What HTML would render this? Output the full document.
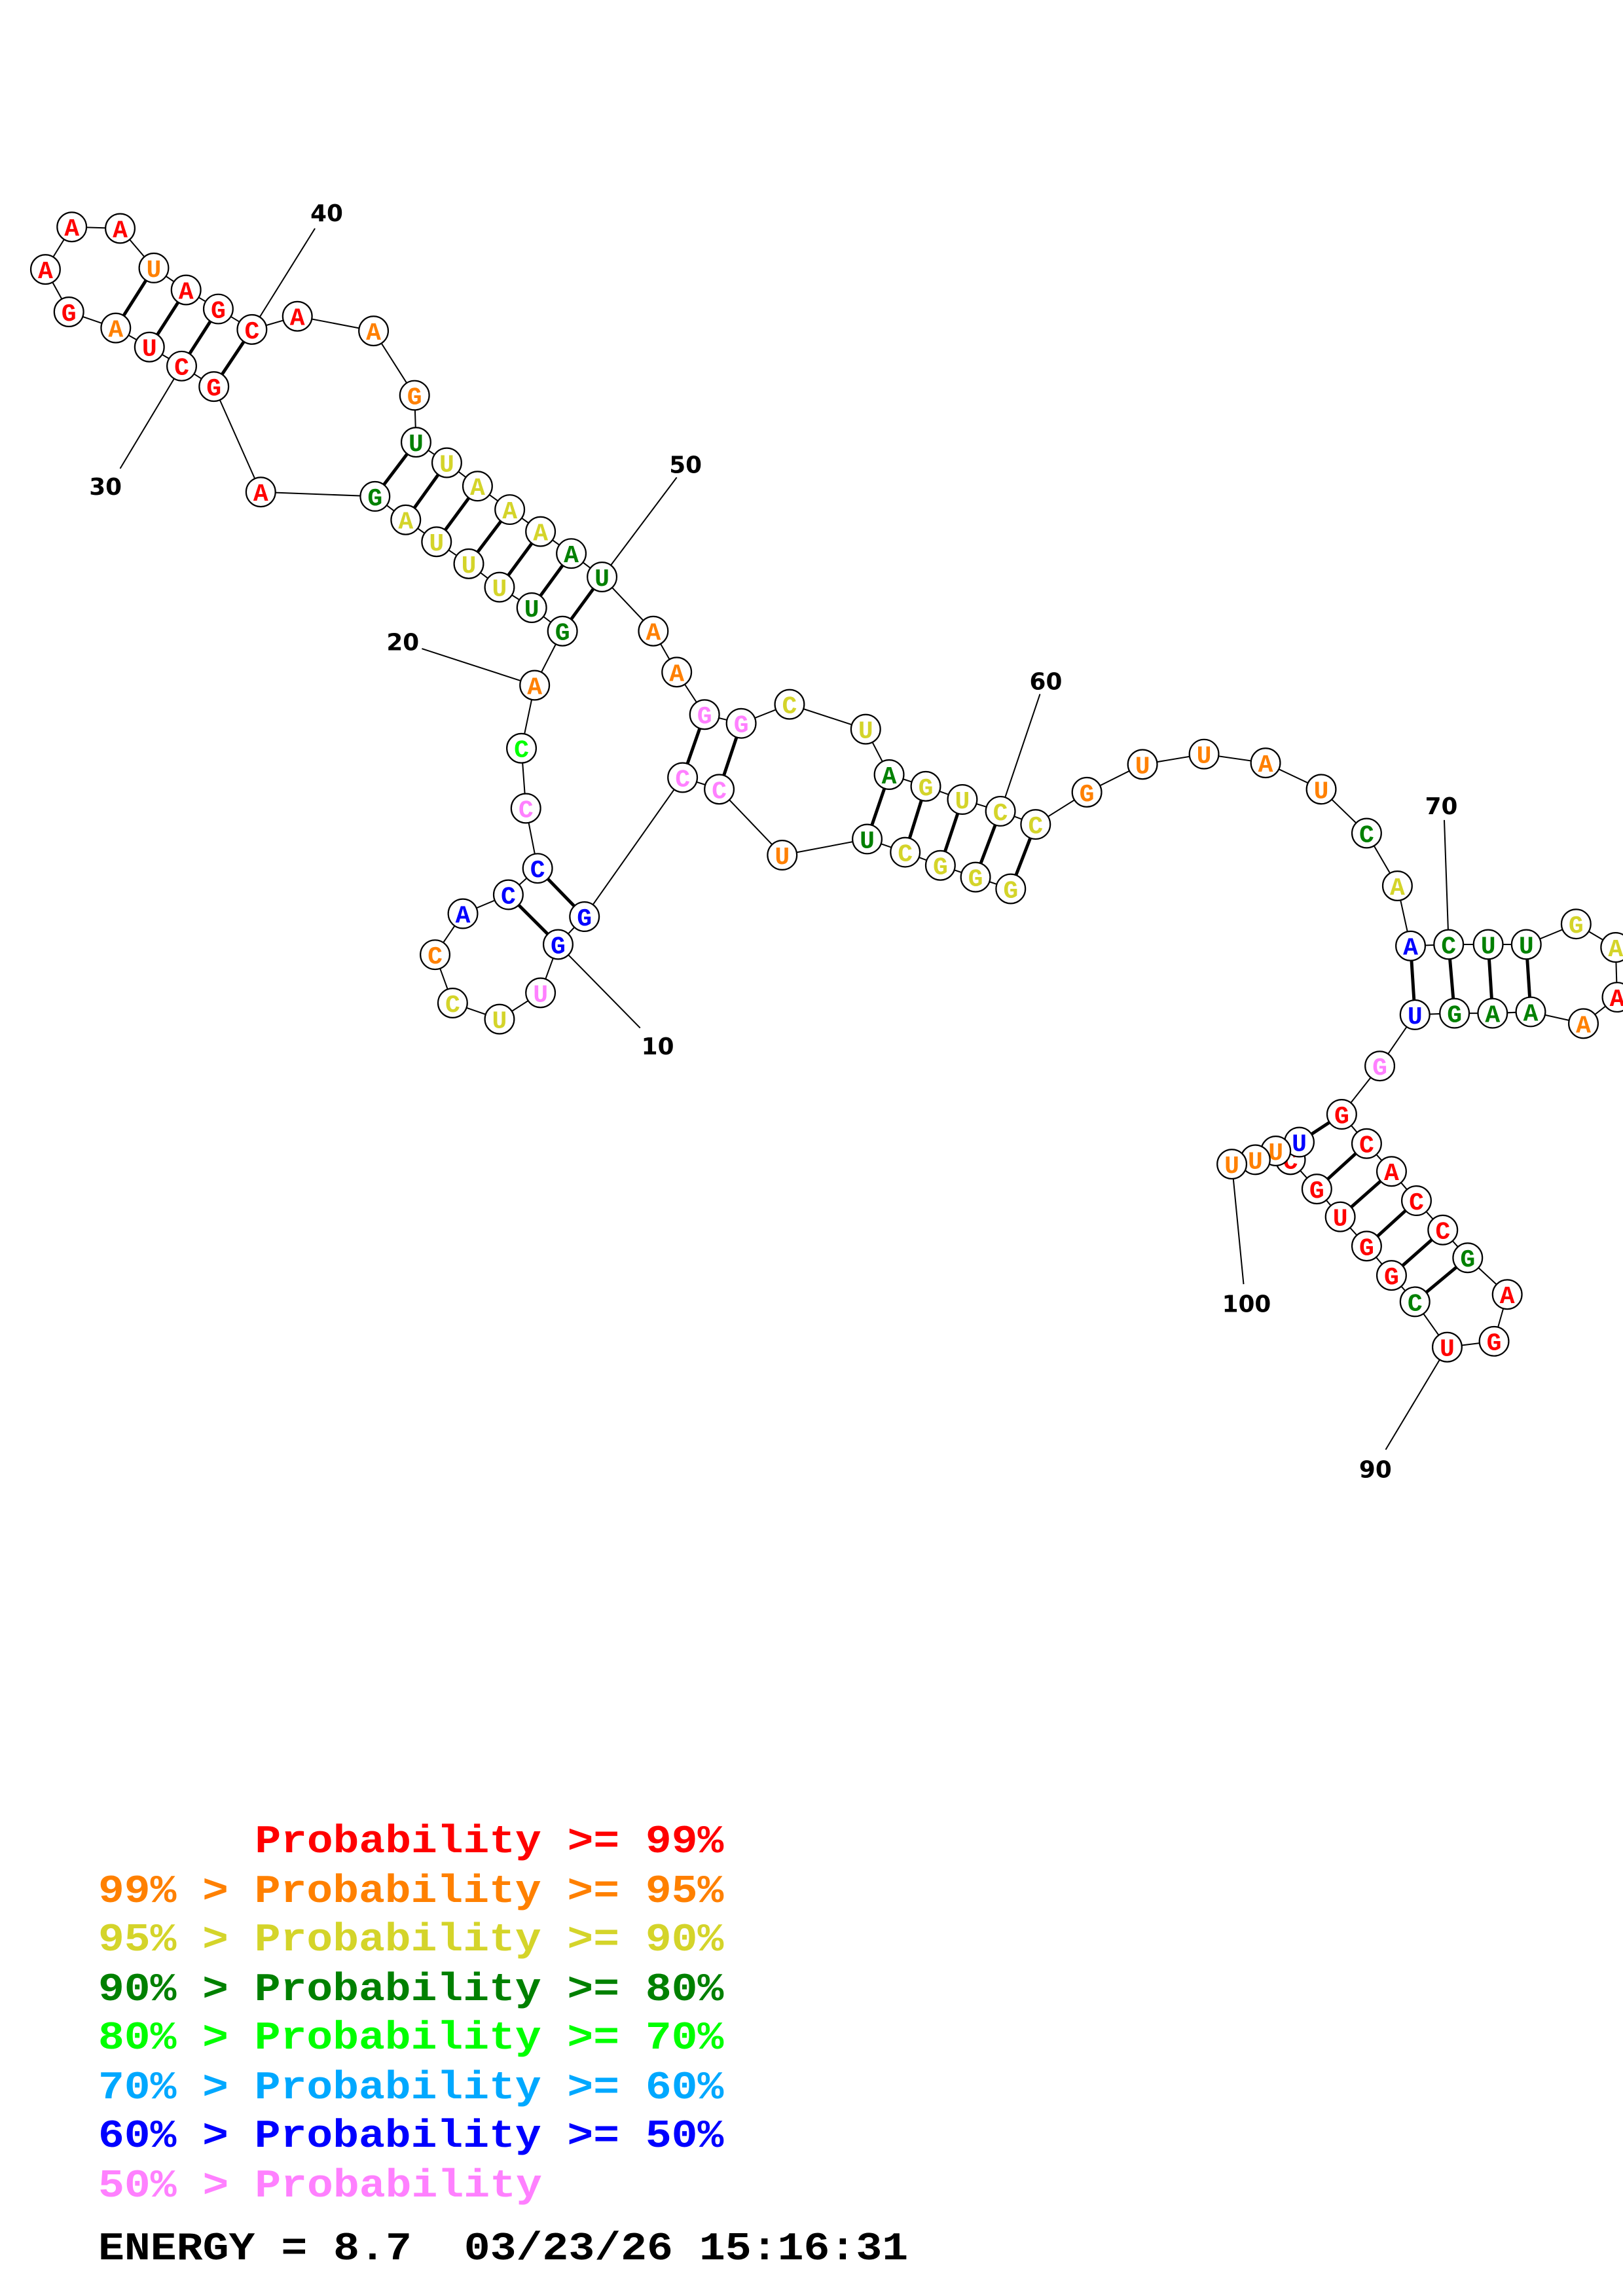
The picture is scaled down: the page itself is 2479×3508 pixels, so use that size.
<!DOCTYPE html>
<html><head><meta charset="utf-8"><style>
html,body{margin:0;padding:0;background:#fff;}
svg{display:block;}
.n circle{fill:#fff;stroke:#000;stroke-width:1;}
.n text{font-family:"Liberation Mono",monospace;font-weight:bold;font-size:17px;text-anchor:middle;}
.lab{font-family:"DejaVu Sans","Liberation Sans",sans-serif;font-weight:bold;font-size:16px;text-anchor:middle;fill:#000;}
.lg{font-family:"Liberation Mono",monospace;font-weight:bold;font-size:27px;}
</style></head><body>
<svg width="2479" height="3508" viewBox="0 0 1108 1568" xmlns="http://www.w3.org/2000/svg">
<g stroke="#000" stroke-width="0.9" fill="none">
<polyline points="690,607 666,599 642,591 618,582 592,573 534,584 491,539 466,531 399,626 381,645 369,678 341,696 309,685 297,652 316,624 347,611 367,593 359,552 356,511 365,468 384,431 363,415 341,401 320,385 298,370 277,355 256,339 178,336 146,264 124,250 102,237 79,224 47,213 31,184 49,155 82,156 105,183 127,198 149,211 172,225 203,216 255,226 283,270 284,302 305,316 326,332 348,348 369,363 390,378 411,394 446,431 462,459 481,488 506,494 539,481 591,498 607,529 632,537 657,546 683,554 707,563 742,541 780,522 822,515 864,521 902,539 933,569 954,605 963,646 989,645 1016,645 1042,645 1076,631 1103,647 1104,681 1081,699 1045,691 1019,692 993,692 966,693 942,728 916,761 933,781 950,800 967,820 985,840 1002,859 1029,884 1020,916 988,920 966,889 950,871 933,851 915,831 899,812 881,792 887,780 871,786 857,792 841,795"/>
<line x1="381" y1="645" x2="437" y2="702"/>
<line x1="365" y1="468" x2="288" y2="443"/>
<line x1="124" y1="250" x2="82" y2="320"/>
<line x1="172" y1="225" x2="215" y2="156"/>
<line x1="411" y1="394" x2="462" y2="326"/>
<line x1="683" y1="554" x2="710" y2="474"/>
<line x1="989" y1="645" x2="986" y2="560"/>
<line x1="988" y1="920" x2="946" y2="990"/>
<line x1="841" y1="795" x2="849" y2="877"/>
</g>
<g stroke="#000" stroke-width="2.2">
<line x1="690" y1="607" x2="707" y2="563"/>
<line x1="666" y1="599" x2="683" y2="554"/>
<line x1="642" y1="591" x2="657" y2="546"/>
<line x1="618" y1="582" x2="632" y2="537"/>
<line x1="592" y1="573" x2="607" y2="529"/>
<line x1="491" y1="539" x2="506" y2="494"/>
<line x1="466" y1="531" x2="481" y2="488"/>
<line x1="399" y1="626" x2="367" y2="593"/>
<line x1="381" y1="645" x2="347" y2="611"/>
<line x1="384" y1="431" x2="411" y2="394"/>
<line x1="363" y1="415" x2="390" y2="378"/>
<line x1="341" y1="401" x2="369" y2="363"/>
<line x1="320" y1="385" x2="348" y2="348"/>
<line x1="298" y1="370" x2="326" y2="332"/>
<line x1="277" y1="355" x2="305" y2="316"/>
<line x1="256" y1="339" x2="284" y2="302"/>
<line x1="146" y1="264" x2="172" y2="225"/>
<line x1="124" y1="250" x2="149" y2="211"/>
<line x1="102" y1="237" x2="127" y2="198"/>
<line x1="79" y1="224" x2="105" y2="183"/>
<line x1="963" y1="646" x2="966" y2="693"/>
<line x1="989" y1="645" x2="993" y2="692"/>
<line x1="1016" y1="645" x2="1019" y2="692"/>
<line x1="1042" y1="645" x2="1045" y2="691"/>
<line x1="916" y1="761" x2="887" y2="780"/>
<line x1="933" y1="781" x2="899" y2="812"/>
<line x1="950" y1="800" x2="915" y2="831"/>
<line x1="967" y1="820" x2="933" y2="851"/>
<line x1="985" y1="840" x2="950" y2="871"/>
<line x1="1002" y1="859" x2="966" y2="889"/>
</g>
<g class="n">
<circle cx="690" cy="607" r="10"/><text x="690" y="613" fill="#d4d42a">G</text>
<circle cx="666" cy="599" r="10"/><text x="666" y="605" fill="#d4d42a">G</text>
<circle cx="642" cy="591" r="10"/><text x="642" y="597" fill="#d4d42a">G</text>
<circle cx="618" cy="582" r="10"/><text x="618" y="588" fill="#d4d42a">C</text>
<circle cx="592" cy="573" r="10"/><text x="592" y="579" fill="#008000">U</text>
<circle cx="534" cy="584" r="10"/><text x="534" y="590" fill="#ff8000">U</text>
<circle cx="491" cy="539" r="10"/><text x="491" y="545" fill="#ff80ff">C</text>
<circle cx="466" cy="531" r="10"/><text x="466" y="537" fill="#ff80ff">C</text>
<circle cx="399" cy="626" r="10"/><text x="399" y="632" fill="#0000ff">G</text>
<circle cx="381" cy="645" r="10"/><text x="381" y="651" fill="#0000ff">G</text>
<circle cx="369" cy="678" r="10"/><text x="369" y="684" fill="#ff80ff">U</text>
<circle cx="341" cy="696" r="10"/><text x="341" y="702" fill="#d4d42a">U</text>
<circle cx="309" cy="685" r="10"/><text x="309" y="691" fill="#d4d42a">C</text>
<circle cx="297" cy="652" r="10"/><text x="297" y="658" fill="#ff8000">C</text>
<circle cx="316" cy="624" r="10"/><text x="316" y="630" fill="#0000ff">A</text>
<circle cx="347" cy="611" r="10"/><text x="347" y="617" fill="#0000ff">C</text>
<circle cx="367" cy="593" r="10"/><text x="367" y="599" fill="#0000ff">C</text>
<circle cx="359" cy="552" r="10"/><text x="359" y="558" fill="#ff80ff">C</text>
<circle cx="356" cy="511" r="10"/><text x="356" y="517" fill="#00ff00">C</text>
<circle cx="365" cy="468" r="10"/><text x="365" y="474" fill="#ff8000">A</text>
<circle cx="384" cy="431" r="10"/><text x="384" y="437" fill="#008000">G</text>
<circle cx="363" cy="415" r="10"/><text x="363" y="421" fill="#008000">U</text>
<circle cx="341" cy="401" r="10"/><text x="341" y="407" fill="#d4d42a">U</text>
<circle cx="320" cy="385" r="10"/><text x="320" y="391" fill="#d4d42a">U</text>
<circle cx="298" cy="370" r="10"/><text x="298" y="376" fill="#d4d42a">U</text>
<circle cx="277" cy="355" r="10"/><text x="277" y="361" fill="#d4d42a">A</text>
<circle cx="256" cy="339" r="10"/><text x="256" y="345" fill="#008000">G</text>
<circle cx="178" cy="336" r="10"/><text x="178" y="342" fill="#ff0000">A</text>
<circle cx="146" cy="264" r="10"/><text x="146" y="270" fill="#ff0000">G</text>
<circle cx="124" cy="250" r="10"/><text x="124" y="256" fill="#ff0000">C</text>
<circle cx="102" cy="237" r="10"/><text x="102" y="243" fill="#ff0000">U</text>
<circle cx="79" cy="224" r="10"/><text x="79" y="230" fill="#ff8000">A</text>
<circle cx="47" cy="213" r="10"/><text x="47" y="219" fill="#ff0000">G</text>
<circle cx="31" cy="184" r="10"/><text x="31" y="190" fill="#ff0000">A</text>
<circle cx="49" cy="155" r="10"/><text x="49" y="161" fill="#ff0000">A</text>
<circle cx="82" cy="156" r="10"/><text x="82" y="162" fill="#ff0000">A</text>
<circle cx="105" cy="183" r="10"/><text x="105" y="189" fill="#ff8000">U</text>
<circle cx="127" cy="198" r="10"/><text x="127" y="204" fill="#ff0000">A</text>
<circle cx="149" cy="211" r="10"/><text x="149" y="217" fill="#ff0000">G</text>
<circle cx="172" cy="225" r="10"/><text x="172" y="231" fill="#ff0000">C</text>
<circle cx="203" cy="216" r="10"/><text x="203" y="222" fill="#ff0000">A</text>
<circle cx="255" cy="226" r="10"/><text x="255" y="232" fill="#ff8000">A</text>
<circle cx="283" cy="270" r="10"/><text x="283" y="276" fill="#ff8000">G</text>
<circle cx="284" cy="302" r="10"/><text x="284" y="308" fill="#008000">U</text>
<circle cx="305" cy="316" r="10"/><text x="305" y="322" fill="#d4d42a">U</text>
<circle cx="326" cy="332" r="10"/><text x="326" y="338" fill="#d4d42a">A</text>
<circle cx="348" cy="348" r="10"/><text x="348" y="354" fill="#d4d42a">A</text>
<circle cx="369" cy="363" r="10"/><text x="369" y="369" fill="#d4d42a">A</text>
<circle cx="390" cy="378" r="10"/><text x="390" y="384" fill="#008000">A</text>
<circle cx="411" cy="394" r="10"/><text x="411" y="400" fill="#008000">U</text>
<circle cx="446" cy="431" r="10"/><text x="446" y="437" fill="#ff8000">A</text>
<circle cx="462" cy="459" r="10"/><text x="462" y="465" fill="#ff8000">A</text>
<circle cx="481" cy="488" r="10"/><text x="481" y="494" fill="#ff80ff">G</text>
<circle cx="506" cy="494" r="10"/><text x="506" y="500" fill="#ff80ff">G</text>
<circle cx="539" cy="481" r="10"/><text x="539" y="487" fill="#d4d42a">C</text>
<circle cx="591" cy="498" r="10"/><text x="591" y="504" fill="#d4d42a">U</text>
<circle cx="607" cy="529" r="10"/><text x="607" y="535" fill="#008000">A</text>
<circle cx="632" cy="537" r="10"/><text x="632" y="543" fill="#d4d42a">G</text>
<circle cx="657" cy="546" r="10"/><text x="657" y="552" fill="#d4d42a">U</text>
<circle cx="683" cy="554" r="10"/><text x="683" y="560" fill="#d4d42a">C</text>
<circle cx="707" cy="563" r="10"/><text x="707" y="569" fill="#d4d42a">C</text>
<circle cx="742" cy="541" r="10"/><text x="742" y="547" fill="#ff8000">G</text>
<circle cx="780" cy="522" r="10"/><text x="780" y="528" fill="#ff8000">U</text>
<circle cx="822" cy="515" r="10"/><text x="822" y="521" fill="#ff8000">U</text>
<circle cx="864" cy="521" r="10"/><text x="864" y="527" fill="#ff8000">A</text>
<circle cx="902" cy="539" r="10"/><text x="902" y="545" fill="#ff8000">U</text>
<circle cx="933" cy="569" r="10"/><text x="933" y="575" fill="#008000">C</text>
<circle cx="954" cy="605" r="10"/><text x="954" y="611" fill="#d4d42a">A</text>
<circle cx="963" cy="646" r="10"/><text x="963" y="652" fill="#0000ff">A</text>
<circle cx="989" cy="645" r="10"/><text x="989" y="651" fill="#008000">C</text>
<circle cx="1016" cy="645" r="10"/><text x="1016" y="651" fill="#008000">U</text>
<circle cx="1042" cy="645" r="10"/><text x="1042" y="651" fill="#008000">U</text>
<circle cx="1076" cy="631" r="10"/><text x="1076" y="637" fill="#d4d42a">G</text>
<circle cx="1103" cy="647" r="10"/><text x="1103" y="653" fill="#d4d42a">A</text>
<circle cx="1104" cy="681" r="10"/><text x="1104" y="687" fill="#ff0000">A</text>
<circle cx="1081" cy="699" r="10"/><text x="1081" y="705" fill="#ff8000">A</text>
<circle cx="1045" cy="691" r="10"/><text x="1045" y="697" fill="#008000">A</text>
<circle cx="1019" cy="692" r="10"/><text x="1019" y="698" fill="#008000">A</text>
<circle cx="993" cy="692" r="10"/><text x="993" y="698" fill="#008000">G</text>
<circle cx="966" cy="693" r="10"/><text x="966" y="699" fill="#0000ff">U</text>
<circle cx="942" cy="728" r="10"/><text x="942" y="734" fill="#ff80ff">G</text>
<circle cx="916" cy="761" r="10"/><text x="916" y="767" fill="#ff0000">G</text>
<circle cx="933" cy="781" r="10"/><text x="933" y="787" fill="#ff0000">C</text>
<circle cx="950" cy="800" r="10"/><text x="950" y="806" fill="#ff0000">A</text>
<circle cx="967" cy="820" r="10"/><text x="967" y="826" fill="#ff0000">C</text>
<circle cx="985" cy="840" r="10"/><text x="985" y="846" fill="#ff0000">C</text>
<circle cx="1002" cy="859" r="10"/><text x="1002" y="865" fill="#008000">G</text>
<circle cx="1029" cy="884" r="10"/><text x="1029" y="890" fill="#ff0000">A</text>
<circle cx="1020" cy="916" r="10"/><text x="1020" y="922" fill="#ff0000">G</text>
<circle cx="988" cy="920" r="10"/><text x="988" y="926" fill="#ff0000">U</text>
<circle cx="966" cy="889" r="10"/><text x="966" y="895" fill="#008000">C</text>
<circle cx="950" cy="871" r="10"/><text x="950" y="877" fill="#ff0000">G</text>
<circle cx="933" cy="851" r="10"/><text x="933" y="857" fill="#ff0000">G</text>
<circle cx="915" cy="831" r="10"/><text x="915" y="837" fill="#ff0000">U</text>
<circle cx="899" cy="812" r="10"/><text x="899" y="818" fill="#ff0000">G</text>
<circle cx="881" cy="792" r="10"/><text x="881" y="798" fill="#ff0000">C</text>
<circle cx="887" cy="780" r="10"/><text x="887" y="786" fill="#0000ff">U</text>
<circle cx="871" cy="786" r="10"/><text x="871" y="792" fill="#ff8000">U</text>
<circle cx="857" cy="792" r="10"/><text x="857" y="798" fill="#ff8000">U</text>
<circle cx="841" cy="795" r="10"/><text x="841" y="801" fill="#ff8000">U</text>
</g>
<text class="lab" x="449" y="720">10</text>
<text class="lab" x="275" y="444">20</text>
<text class="lab" x="72" y="338">30</text>
<text class="lab" x="223" y="151">40</text>
<text class="lab" x="468" y="323">50</text>
<text class="lab" x="714" y="471">60</text>
<text class="lab" x="984" y="556">70</text>
<text class="lab" x="939" y="1009">90</text>
<text class="lab" x="851" y="896">100</text>
<text class="lg" x="174" y="1265" fill="#ff0000" textLength="320" lengthAdjust="spacingAndGlyphs">Probability &gt;= 99%</text>
<text class="lg" x="67" y="1299" fill="#ff8000" textLength="427" lengthAdjust="spacingAndGlyphs">99% &gt; Probability &gt;= 95%</text>
<text class="lg" x="67" y="1332" fill="#d4d42a" textLength="427" lengthAdjust="spacingAndGlyphs">95% &gt; Probability &gt;= 90%</text>
<text class="lg" x="67" y="1366" fill="#008000" textLength="427" lengthAdjust="spacingAndGlyphs">90% &gt; Probability &gt;= 80%</text>
<text class="lg" x="67" y="1399" fill="#00ff00" textLength="427" lengthAdjust="spacingAndGlyphs">80% &gt; Probability &gt;= 70%</text>
<text class="lg" x="67" y="1433" fill="#00a8ff" textLength="427" lengthAdjust="spacingAndGlyphs">70% &gt; Probability &gt;= 60%</text>
<text class="lg" x="67" y="1466" fill="#0000ff" textLength="427" lengthAdjust="spacingAndGlyphs">60% &gt; Probability &gt;= 50%</text>
<text class="lg" x="67" y="1500" fill="#ff80ff" textLength="303" lengthAdjust="spacingAndGlyphs">50% &gt; Probability</text>
<text class="lg" x="67" y="1543" fill="#000" textLength="553" lengthAdjust="spacingAndGlyphs" xml:space="preserve">ENERGY = 8.7  03/23/26 15:16:31</text>
</svg>
</body></html>
